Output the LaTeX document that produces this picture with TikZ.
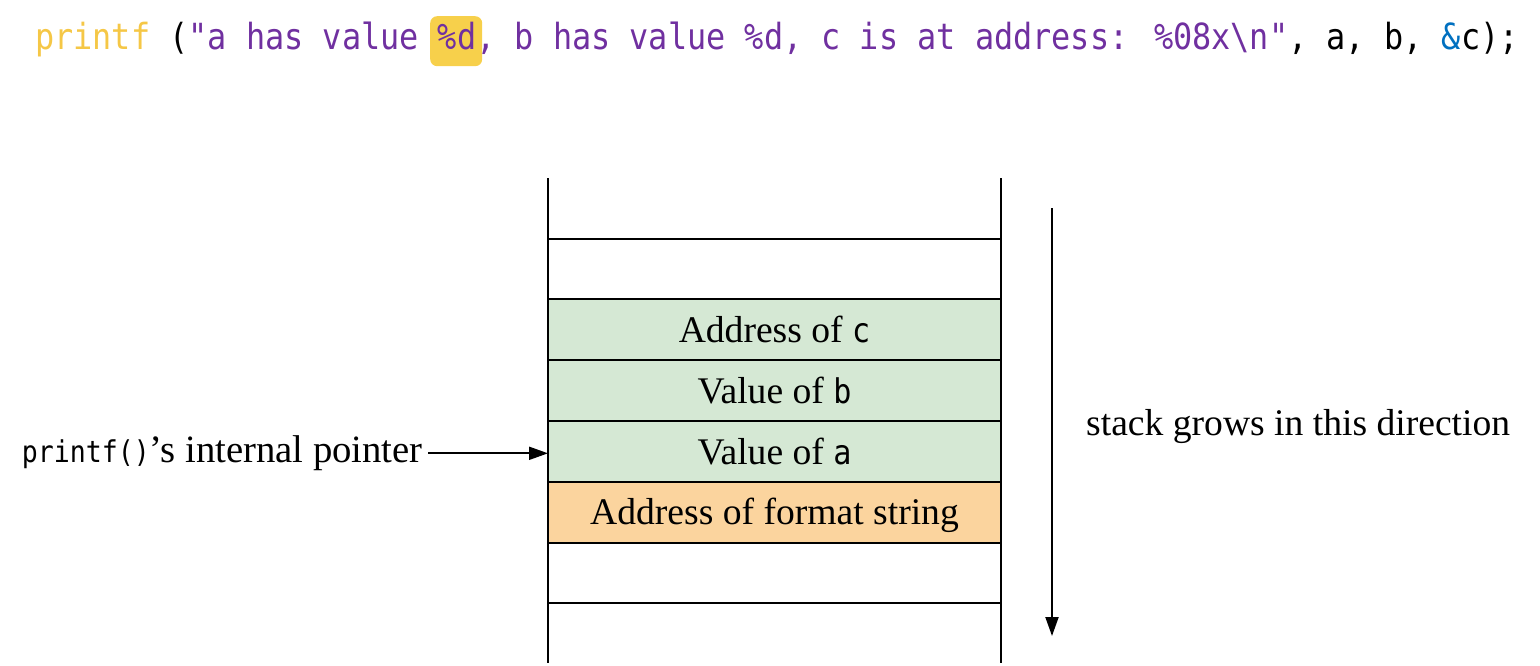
\documentclass[tikz,border=0pt]{standalone}
\usepackage{fontspec}
\setmainfont{Liberation Serif}
\newfontfamily\codefont[FakeStretch=0.885]{DejaVu Sans Mono}
\usetikzlibrary{arrows.meta}
\definecolor{cyel}{HTML}{F5C746}
\definecolor{cpur}{HTML}{7030A0}
\definecolor{cblue}{HTML}{0070C0}
\definecolor{hlyel}{HTML}{F7D04B}
\definecolor{cgreen}{HTML}{D5E8D4}
\definecolor{corange}{HTML}{FBD49E}
\tikzset{
  cell/.style={draw=black, line width=2pt, minimum width=453pt, minimum height=60.8pt,
    inner sep=0pt, outer sep=0pt, anchor=north west, text height=25.7pt, text depth=0pt,
    font=\fontsize{37.6}{40}\selectfont},
  greencell/.style={cell, fill=cgreen},
  orangecell/.style={cell, fill=corange},
  wall/.style={line width=2pt},
  pointer/.style={line width=2pt, -{Triangle[length=19pt,width=13pt]}},
  serif/.style={inner sep=0pt, font=\fontsize{37.6}{40}\selectfont},
}
\newcommand{\cc}[1]{{\codefont\fontsize{34}{40}\selectfont #1}}
\begin{document}
\begin{tikzpicture}[x=1pt,y=-1pt]
\useasboundingbox (0,0) rectangle (1540,666);
% code line
\node[fill=hlyel, rounded corners=7pt, minimum width=52pt, minimum height=50pt, inner sep=0pt, anchor=north west] (hl) at (430,16) {};
\node[inner sep=0pt, anchor=base west, font=\codefont\fontsize{36}{40}\selectfont] (code) at (35,50)
  {\textcolor{cyel}{printf} (\textcolor{cpur}{"a has value \%d, b has value \%d, c is at address: \%08x\textbackslash n"}, a, b, \textcolor{cblue}{\&}c);};
% stack cells
\node[cell] (e1) at (548,238.5) {};
\node[greencell] (ac) at (548,299.3) {Address of \cc{c}};
\node[greencell] (vb) at (548,360.1) {Value of \cc{b}};
\node[greencell] (va) at (548,420.9) {Value of \cc{a}};
\node[orangecell] (fs) at (548,481.7) {Address of format string};
\node[cell] (e2) at (548,542.5) {};
\draw[wall] (e1.north west) -- ++(0,-60.5);
\draw[wall] (e1.north east) -- ++(0,-60.5);
\draw[wall] (e2.south west) -- ++(0,60);
\draw[wall] (e2.south east) -- ++(0,60);
% pointer label
\node[serif, anchor=base east, font=\fontsize{38.7}{42}\selectfont] (lbl) at (423,462) {{\codefont\fontsize{30}{32}\selectfont printf()}'s internal pointer};
\draw[pointer] (lbl.east |- va.west) ++(5,2) -- ([yshift=-2pt]va.west);
% growth direction
\coordinate (g1) at (1052,208);
\coordinate (g2) at (1052,636);
\draw[pointer] (g1) -- (g2);
\node[serif, anchor=base west] (grow) at (1086,435) {stack grows in this direction};
\end{tikzpicture}
\end{document}
